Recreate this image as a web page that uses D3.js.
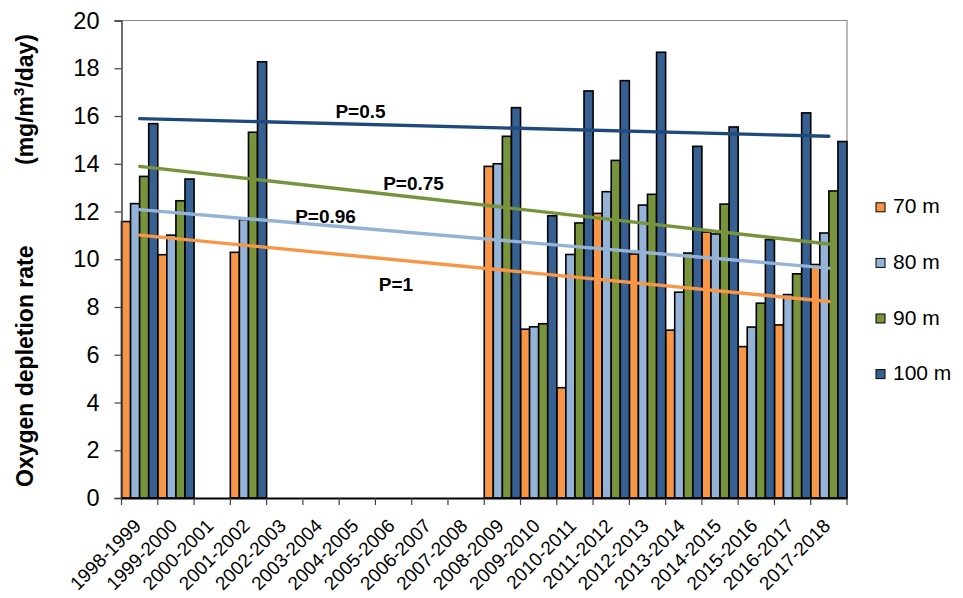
<!DOCTYPE html>
<html>
<head>
<meta charset="utf-8">
<script src="https://cdn.jsdelivr.net/npm/d3@7"></script>
<style>
  html, body { margin: 0; padding: 0; background: #fff; }
  svg { display: block; font-family: "Liberation Sans", Arial, sans-serif; }
</style>
</head>
<body>
<svg id="chart" width="963" height="598"></svg>
<script>
// Winter seasons
const seasons = ["1998-1999","1999-2000","2000-2001","2001-2002","2002-2003","2003-2004",
  "2004-2005","2005-2006","2006-2007","2007-2008","2008-2009","2009-2010","2010-2011",
  "2011-2012","2012-2013","2013-2014","2014-2015","2015-2016","2016-2017","2017-2018"];

// Depth series names
const depths = ["70 m", "80 m", "90 m", "100 m"];

// Oxygen depletion rate (mg/m³/day) per season; null = no measurement
const rate70  = [11.58, 10.19, null, 10.29, null, null, null, null, null, null,
                 13.89, 7.07, 4.62, 11.92, 10.22, 7.03, 11.14, 6.34, 7.25, 9.78];
const rate80  = [12.33, 11.01, null, 11.66, null, null, null, null, null, null,
                 14.00, 7.17, 10.20, 12.83, 12.27, 8.62, 11.06, 7.16, 8.52, 11.10];
const rate90  = [13.47, 12.45, null, 15.32, null, null, null, null, null, null,
                 15.15, 7.30, 11.52, 14.14, 12.72, 10.26, 12.31, 8.16, 9.39, 12.86];
const rate100 = [15.68, 13.36, null, 18.27, null, null, null, null, null, null,
                 16.35, 11.82, 17.05, 17.48, 18.67, 14.73, 15.54, 10.82, 16.13, 14.93];

// Linear trend end values (first season, last season) and significance labels
const trend70  = [11.01, 8.23];
const trend80  = [12.08, 9.63];
const trend90  = [13.89, 10.64];
const trend100 = [15.89, 15.15];
const trendLabels = ["P=1", "P=0.96", "P=0.75", "P=0.5"];

const yTicks = [0, 2, 4, 6, 8, 10, 12, 14, 16, 18, 20];

const barColors   = ["#F79646", "#95B3D7", "#77933C", "#376092"];
const trendColors = ["#F79646", "#95B3D7", "#77933C", "#1F497D"];

const series = [rate70, rate80, rate90, rate100];
const trends = [trend70, trend80, trend90, trend100];

const svg = d3.select("#chart");
const plotLeft = 121.5, plotRight = 847, plotTop = 20.5, plotBottom = 498;

const x = d3.scaleBand().domain(seasons).range([plotLeft, plotRight]).paddingInner(0).paddingOuter(0);
const xs = d3.scaleBand().domain(depths).range([0, x.bandwidth()]).padding(0);
const y = d3.scaleLinear().domain([0, 20]).range([plotBottom, plotTop]);

// Plot frame (top and right edges)
svg.append("path")
  .attr("d", `M${plotLeft},${plotTop}H${plotRight}V${plotBottom}`)
  .attr("fill", "none").attr("stroke", "#8c8c8c").attr("stroke-width", 1.2);

// Bars
const groups = svg.append("g").selectAll("g")
  .data(series).join("g")
  .attr("fill", (d, i) => barColors[i]);

groups.selectAll("rect")
  .data((vals, i) => vals.map((v, j) => ({ v, season: seasons[j], depth: depths[i] })).filter(d => d.v != null))
  .join("rect")
  .attr("x", d => x(d.season) + xs(d.depth))
  .attr("width", xs.bandwidth())
  .attr("y", d => y(d.v))
  .attr("height", d => y(0) - y(d.v))
  .attr("stroke", "#000").attr("stroke-width", 1.6);

// Trend lines across season centres
const xFirst = x(seasons[0]) + x.bandwidth() / 2;
const xLast = x(seasons[seasons.length - 1]) + x.bandwidth() / 2;
trends.forEach((t, i) => {
  svg.append("line")
    .attr("x1", xFirst).attr("y1", y(t[0]))
    .attr("x2", xLast).attr("y2", y(t[1]))
    .attr("stroke", trendColors[i]).attr("stroke-width", 3.4)
    .attr("stroke-linecap", "round");
});

// Trend significance labels
const labelPos = [[396, 290.5], [325.5, 223], [413.5, 190], [360.5, 118]];
trendLabels.forEach((t, i) => {
  svg.append("text")
    .attr("x", labelPos[i][0]).attr("y", labelPos[i][1])
    .attr("text-anchor", "middle")
    .attr("font-size", 19).attr("font-weight", "bold").attr("fill", "#000")
    .text(t);
});

// Y axis
const yAxis = svg.append("g")
  .attr("transform", `translate(${plotLeft},0)`)
  .call(d3.axisLeft(y).tickValues(yTicks).tickSize(7).tickPadding(15).tickFormat(d3.format("d")));
yAxis.select(".domain").attr("stroke", "#404040").attr("stroke-width", 1.5);
yAxis.selectAll(".tick line").attr("stroke", "#404040").attr("stroke-width", 1.2);
yAxis.selectAll(".tick text").attr("font-size", 23.5).attr("fill", "#000")
  .attr("font-family", "Liberation Sans, Arial, sans-serif");

// X axis
const xAxis = svg.append("g")
  .attr("transform", `translate(0,${plotBottom})`)
  .call(d3.axisBottom(x).tickSize(0).tickFormat(""));
xAxis.select(".domain").attr("stroke", "#000").attr("stroke-width", 1.8);

// Boundary ticks between seasons
svg.append("g").selectAll("line")
  .data(d3.range(seasons.length + 1))
  .join("line")
  .attr("x1", i => plotLeft + i * x.bandwidth())
  .attr("x2", i => plotLeft + i * x.bandwidth())
  .attr("y1", plotBottom).attr("y2", plotBottom + 7)
  .attr("stroke", "#404040").attr("stroke-width", 1.2);

// Rotated season labels
svg.append("g").selectAll("text")
  .data(seasons).join("text")
  .attr("transform", d => `translate(${x(d) + x.bandwidth() / 2 + 2.5},${plotBottom + 29}) rotate(-45)`)
  .attr("text-anchor", "end")
  .attr("font-size", 19).attr("fill", "#000")
  .text(d => d);

// Y axis title
const yTitle = svg.append("g").attr("font-size", 23).attr("font-weight", "bold").attr("fill", "#000");
yTitle.append("text")
  .attr("transform", "translate(33,487) rotate(-90)")
  .attr("text-anchor", "start")
  .text("Oxygen depletion rate");
const yUnit = yTitle.append("text")
  .attr("transform", "translate(33,34) rotate(-90)")
  .attr("text-anchor", "end");
yUnit.append("tspan").text("(mg/m");
yUnit.append("tspan").attr("font-size", 15).attr("dy", -9).text("3");
yUnit.append("tspan").attr("dy", 9).text("/day)");

// Legend
const legend = svg.append("g").selectAll("g")
  .data(depths).join("g")
  .attr("transform", (d, i) => `translate(876,${213.3 + i * 55.6})`);
legend.append("rect")
  .attr("x", 0).attr("y", -10.5).attr("width", 9).attr("height", 9)
  .attr("fill", (d, i) => barColors[i]).attr("stroke", "#000").attr("stroke-width", 1);
legend.append("text")
  .attr("x", 17).attr("y", 0)
  .attr("font-size", 21).attr("fill", "#000")
  .text(d => d);
</script>
</body>
</html>
